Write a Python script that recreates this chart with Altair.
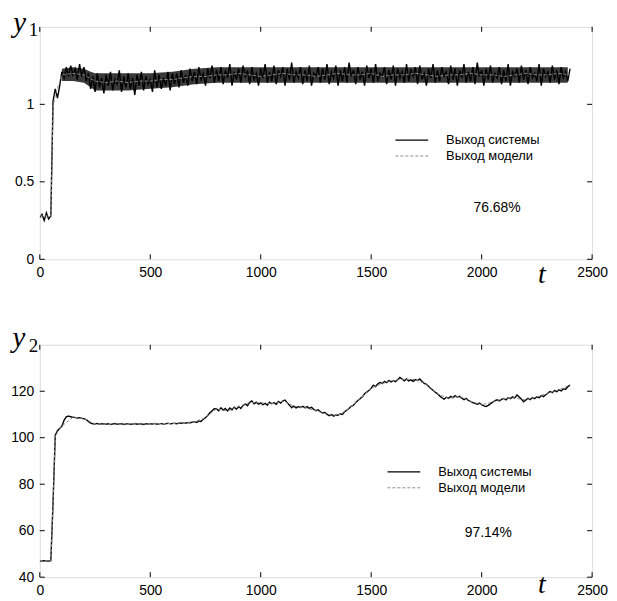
import altair as alt
import pandas as pd

# ---------------- data ----------------
STEP = 10  # sample step of the measured outputs

names = ["Выход системы", "Выход модели"]

# y1: system output, sampled every 10 time units from t=0 to t=2400
y1_sys = [
    0.27, 0.29, 0.25, 0.30, 0.26, 0.28, 1.02, 1.10, 1.04, 1.12,
    1.21, 1.17, 1.24, 1.18, 1.25, 1.19, 1.23, 1.16, 1.26, 1.18,
    1.24, 1.15, 1.20,
    1.10, 1.18, 1.08, 1.20, 1.11, 1.17, 1.07, 1.19, 1.12, 1.21,
    1.09, 1.16, 1.13, 1.22, 1.08, 1.18, 1.11, 1.20, 1.10, 1.17,
    1.06, 1.19, 1.12, 1.21, 1.09, 1.18, 1.13, 1.16, 1.08, 1.22,
    1.11, 1.19, 1.10, 1.17, 1.12, 1.21, 1.09, 1.20,
    1.13, 1.20, 1.11, 1.22, 1.14, 1.19, 1.12, 1.23, 1.15, 1.21,
    1.13, 1.24, 1.16, 1.20, 1.12, 1.23, 1.17, 1.25, 1.14, 1.22,
    1.15, 1.24, 1.13, 1.22, 1.17, 1.26, 1.12, 1.21, 1.16, 1.23,
    1.14, 1.25, 1.18, 1.22, 1.13, 1.24, 1.16, 1.20, 1.12, 1.23,
    1.17, 1.26, 1.14, 1.21, 1.15, 1.25, 1.13, 1.22, 1.18, 1.24,
    1.12, 1.23, 1.16, 1.27, 1.14, 1.21, 1.17, 1.24, 1.13, 1.22,
    1.15, 1.25, 1.12, 1.20, 1.18, 1.24, 1.14, 1.23, 1.16, 1.26,
    1.13, 1.21, 1.17, 1.25, 1.12, 1.22, 1.15, 1.24, 1.14, 1.27,
    1.18, 1.22, 1.13, 1.24, 1.16, 1.21, 1.12, 1.25, 1.17, 1.23,
    1.14, 1.26, 1.15, 1.20, 1.18, 1.24, 1.13, 1.22, 1.16, 1.25,
    1.12, 1.23, 1.17, 1.21, 1.14, 1.26, 1.15, 1.22, 1.18, 1.24,
    1.13, 1.25, 1.16, 1.20, 1.12, 1.23, 1.17, 1.26, 1.14, 1.22,
    1.15, 1.24, 1.18, 1.21, 1.13, 1.25, 1.16, 1.23, 1.12, 1.22,
    1.17, 1.26, 1.14, 1.21, 1.15, 1.24, 1.13, 1.27, 1.18, 1.22,
    1.12, 1.23, 1.16, 1.25, 1.14, 1.20, 1.17, 1.24, 1.13, 1.22,
    1.15, 1.26, 1.12, 1.21, 1.18, 1.23, 1.14, 1.25, 1.16, 1.22,
    1.13, 1.24, 1.17, 1.20, 1.15, 1.26, 1.12, 1.23, 1.18, 1.21,
    1.14, 1.25, 1.16, 1.22, 1.13, 1.24, 1.17, 1.21, 1.15, 1.23,
]

# y1: the dense band that the fast-varying system output fills (low / high edge)
env_t = [100, 150, 200, 230, 250, 300, 400, 500, 600, 700, 800, 1000, 1200,
         1400, 1600, 1800, 2000, 2200, 2390]
env_lo = [1.15, 1.15, 1.14, 1.11, 1.09, 1.09, 1.09, 1.10, 1.11, 1.13, 1.14,
          1.14, 1.14, 1.14, 1.14, 1.14, 1.14, 1.14, 1.14]
env_hi = [1.23, 1.24, 1.23, 1.21, 1.20, 1.20, 1.20, 1.20, 1.21, 1.23, 1.24,
          1.24, 1.24, 1.24, 1.24, 1.24, 1.24, 1.24, 1.24]

# y2: system output, sampled every 10 time units from t=0 to t=2400
y2_sys = [
    47.0, 46.9, 47.1, 47.0, 46.9, 47.1, 72.0, 101.0, 103.0, 104.0,
    105.0, 107.5, 109.0, 109.3, 109.0, 108.8, 108.7, 108.5, 108.6, 108.3,
    108.2, 107.8, 107.0, 106.3, 106.0, 105.9, 106.1, 105.8, 106.0, 105.9,
    105.8, 106.0, 105.7, 105.9, 106.1, 105.8, 105.9, 106.0, 105.7, 105.9,
    106.0, 105.8, 105.9, 106.1, 105.8, 106.0, 105.9, 105.7, 106.0, 105.9,
    106.0, 105.9, 106.1, 105.8, 106.0, 106.1, 105.9, 106.0, 106.2, 106.0,
    106.1, 106.2, 106.0, 106.3, 106.2, 106.4, 106.3, 106.5, 106.4, 106.7,
    106.9, 106.6, 107.2, 107.0, 108.0, 108.6, 109.5, 110.8, 111.6, 112.5,
    112.4, 111.6, 112.9, 111.9, 112.6, 111.5, 112.8, 112.0, 113.1, 112.3,
    113.4, 112.6, 113.9, 114.5, 113.8, 115.2, 115.8, 114.6, 115.3, 114.4,
    115.0, 114.2, 114.8, 114.0, 115.3, 114.6, 115.1, 114.4, 115.6, 114.9,
    115.8, 116.2, 115.1, 114.0, 112.9, 113.6, 112.8, 113.4, 113.0, 113.5,
    112.9, 113.4, 112.6, 113.1, 112.2, 111.6, 112.0, 111.2, 110.6, 110.9,
    110.1, 109.5, 110.0, 109.3, 109.8, 109.6, 110.3, 110.0, 111.2, 111.9,
    112.6, 113.5, 114.0, 115.2, 116.0, 116.8, 117.6, 118.9, 119.6, 120.4,
    121.3, 122.6, 122.0, 123.2, 123.8, 123.3, 124.2, 123.7, 124.6, 124.0,
    124.6, 124.1, 125.0, 125.9, 125.2, 124.5, 125.3, 124.4, 124.9, 124.2,
    125.0, 124.6, 125.3, 124.2, 123.4, 123.0, 122.1, 121.2, 120.4, 119.6,
    118.9, 118.0, 117.2, 116.6, 117.4, 116.9, 117.8, 117.2, 118.1, 117.5,
    117.8, 117.0, 116.4, 116.9, 116.0, 115.6, 115.1, 114.8, 114.4, 114.9,
    114.2, 113.7, 113.4, 113.9, 114.6, 115.3, 115.9, 116.3, 115.8, 116.5,
    116.9, 116.3, 117.2, 116.8, 117.6, 117.1, 118.4, 117.5, 116.6, 115.5,
    116.2, 116.9, 116.4, 117.3, 116.8, 117.6, 117.2, 118.1, 117.7, 118.5,
    119.2, 119.9, 119.4, 120.3, 119.8, 120.6, 120.1, 121.0, 120.8, 121.9,
    122.7,
]

# model outputs (smoother), at these time points
t_mod = [0, 50, 60, 70, 100, 150, 200, 250, 300, 350, 400, 450, 500, 550,
         600, 650, 700, 750, 800, 850, 900, 950, 1000, 1050, 1100, 1150,
         1200, 1250, 1300, 1350, 1400, 1450, 1500, 1550, 1600, 1650, 1700,
         1750, 1800, 1850, 1900, 1950, 2000, 2050, 2100, 2150, 2200, 2250,
         2300, 2350, 2400]
y1_mod = [0.28, 0.28, 0.98, 1.06, 1.19, 1.20, 1.19, 1.15, 1.14, 1.15,
          1.14, 1.15, 1.15, 1.16, 1.16, 1.17, 1.18, 1.18, 1.19,
          1.19, 1.20, 1.19, 1.18, 1.19, 1.20, 1.19, 1.19, 1.18, 1.19,
          1.20, 1.19, 1.19, 1.20, 1.18, 1.19, 1.19, 1.20, 1.19, 1.18,
          1.19, 1.19, 1.20, 1.19, 1.19, 1.18, 1.19, 1.20, 1.19, 1.19,
          1.20, 1.19]
y2_mod = [47.0, 47.0, 72.0, 101.0, 105.0, 108.8, 108.2, 105.9, 105.8, 105.8,
          106.0, 106.0, 106.0, 106.1, 106.1, 106.4, 106.9, 108.6, 112.4,
          111.5, 113.4, 115.2, 115.0, 114.6, 115.8, 113.6, 112.9, 111.6, 110.1,
          109.6, 112.6, 116.8, 121.3, 123.3, 124.6, 125.2, 125.0, 123.0, 118.9,
          116.9, 117.8, 115.6, 114.2, 115.3, 116.9, 117.1, 116.2, 117.6, 119.2,
          120.6, 122.7]

x_ticks = [0, 500, 1000, 1500, 2000, 2500]
y1_ticks = [0, 0.5, 1]
y2_ticks = [40, 60, 80, 100, 120]
fit_texts = ["76.68%", "97.14%"]

# ---------------- chart ----------------
W, H = 556, 234
SANS = "Liberation Sans"
SERIF = "Liberation Serif"


def panel(sys_y, mod_y, ydom, yvals, leg_xy, pct, pct_pos, ylab, ylab_pos,
          sub_pos, tlab_pos, env=None):
    t_sys = [i * STEP for i in range(len(sys_y))]
    df = pd.concat([
        pd.DataFrame({"t": t_sys, "y": sys_y, "series": names[0]}),
        pd.DataFrame({"t": t_mod, "y": mod_y, "series": names[1]}),
    ], ignore_index=True)

    X = alt.X("t:Q", scale=alt.Scale(domain=[0, 2500], nice=False, zero=False),
              axis=alt.Axis(values=x_ticks, format="d", ticks=False, domain=False,
                            grid=False, labelPadding=6, title=None, labelFlush=False,
                            labelFont=SANS, labelFontSize=14, labelColor="black"))
    Y = alt.Y("y:Q", scale=alt.Scale(domain=ydom, nice=False, zero=False),
              axis=alt.Axis(values=yvals, labelExpr="'' + datum.value",
                            ticks=False, domain=False, grid=False, labelPadding=6,
                            title=None, labelFont=SANS, labelFontSize=14,
                            labelColor="black", labelFlush=False))

    leg = alt.Legend(orient="none", legendX=leg_xy[0], legendY=leg_xy[1],
                     title=None, symbolType="stroke", symbolSize=1089,
                     symbolStrokeWidth=1.2, labelFont=SANS, labelFontSize=13,
                     labelColor="black", labelOffset=17, clipHeight=14,
                     rowPadding=2)

    lines = alt.Chart(df).mark_line(clip=True).encode(
        x=X, y=Y,
        color=alt.Color("series:N", scale=alt.Scale(domain=names,
                        range=["#000000", "#8c8c8c"]), legend=leg),
        strokeDash=alt.StrokeDash("series:N", scale=alt.Scale(domain=names,
                                  range=[[1, 0], [3, 2]]), legend=leg),
        strokeWidth=alt.StrokeWidth("series:N", scale=alt.Scale(domain=names,
                                    range=[1.4, 1.0]), legend=None),
    )

    layers = []
    if env is not None:
        edf = pd.DataFrame({"t": env[0], "y": env[1], "y2": env[2]})
        layers.append(alt.Chart(edf).mark_area(color="#3a3a3a", clip=True).encode(
            x=X, y=Y, y2="y2:Q"))
    layers.append(lines)

    xt = pd.DataFrame({"t": x_ticks})
    yt = pd.DataFrame({"y": yvals})
    layers += [
        alt.Chart(xt).mark_rule(color="black").encode(
            x=X, y=alt.value(H), y2=alt.value(H - 5)),
        alt.Chart(xt).mark_rule(color="black").encode(
            x=X, y=alt.value(0), y2=alt.value(5)),
        alt.Chart(yt).mark_rule(color="black").encode(
            y=Y, x=alt.value(0), x2=alt.value(5)),
        alt.Chart(yt).mark_rule(color="black").encode(
            y=Y, x=alt.value(W), x2=alt.value(W - 5)),
    ]

    layers.append(alt.Chart(pd.DataFrame({"t": [pct_pos[0]], "y": [pct_pos[1]],
                                          "s": [pct]})).mark_text(
        font=SANS, fontSize=14, align="center", baseline="middle",
        color="black").encode(x=X, y=Y, text="s:N"))
    layers.append(alt.Chart(pd.DataFrame({"t": [ylab_pos[0]], "y": [ylab_pos[1]],
                                          "s": ["y"]})).mark_text(
        font=SERIF, fontStyle="italic", fontSize=29, align="left",
        baseline="alphabetic", color="black").encode(x=X, y=Y, text="s:N"))
    layers.append(alt.Chart(pd.DataFrame({"t": [sub_pos[0]], "y": [sub_pos[1]],
                                          "s": [ylab]})).mark_text(
        font=SERIF, fontSize=19, align="left", baseline="alphabetic",
        color="black").encode(x=X, y=Y, text="s:N"))
    layers.append(alt.Chart(pd.DataFrame({"t": [tlab_pos[0]], "y": [tlab_pos[1]],
                                          "s": ["t"]})).mark_text(
        font=SERIF, fontStyle="italic", fontSize=28, align="left",
        baseline="alphabetic", color="black").encode(x=X, y=Y, text="s:N"))

    return alt.layer(*layers).properties(width=W, height=H)


top = panel(y1_sys, y1_mod, [0, 1.5], y1_ticks, (357, 107), fit_texts[0],
            (2070, 0.33), "1", (-120, 1.468), (-50, 1.44), (2255, -0.155),
            env=(env_t, env_lo, env_hi))
bottom = panel(y2_sys, y2_mod, [40, 140], y2_ticks, (349, 121), fit_texts[1],
               (2030, 59.1), "2", (-124, 139.2), (-50, 137.0), (2255, 33.3))

chart = alt.vconcat(top, bottom, spacing=86, bounds="flush").resolve_scale(
    color="independent", strokeDash="independent", strokeWidth="independent"
).resolve_legend(
    color="independent", strokeDash="independent"
).properties(
    padding={"left": 2, "top": -2, "right": 0, "bottom": 0}
).configure_view(stroke="black", strokeWidth=1).configure(background="white")

chart.save("out.html", embed_options={"renderer": "svg", "actions": False})
